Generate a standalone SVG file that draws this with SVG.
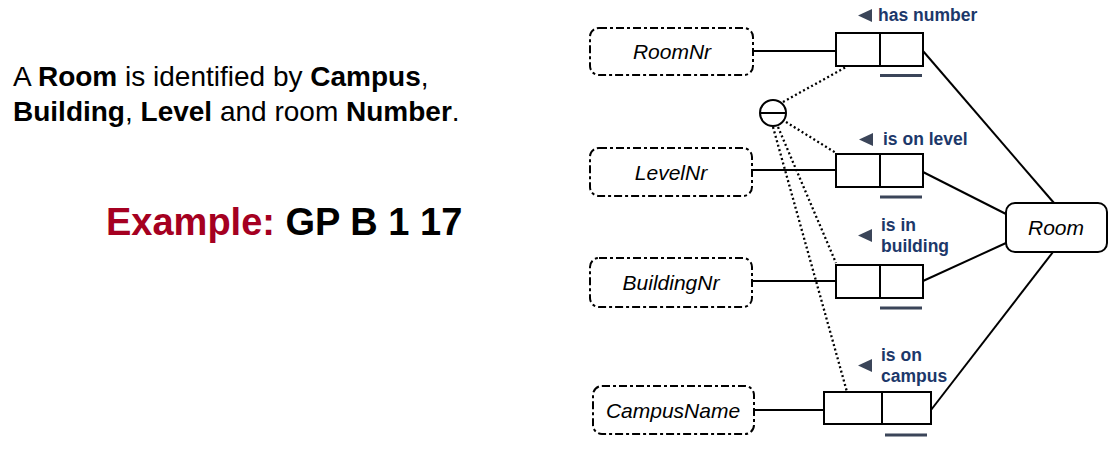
<svg xmlns="http://www.w3.org/2000/svg" width="1111" height="455" viewBox="0 0 1111 455">
<style>
  .ent { fill: #fff; stroke: #000; stroke-width: 2; stroke-dasharray: 8 3 3 3; }
  .obj { fill: #fff; stroke: #000; stroke-width: 2; }
  .role { fill: #fff; stroke: #000; stroke-width: 2; }
  .uc { stroke: #3b4559; stroke-width: 3; }
  .ln { stroke: #000; stroke-width: 2; fill: none; }
  .dot { stroke: #000; stroke-width: 2.3; fill: none; stroke-dasharray: 2 2.6; }
  .etxt { font-family: "Liberation Sans", Arial, sans-serif; font-style: italic; font-size: 21px; fill: #000; text-anchor: middle; }
  .lbl { font-family: "Liberation Sans", Arial, sans-serif; font-weight: bold; font-size: 17.5px; fill: #1c386a; }
  .tri { fill: #3b4559; }
  .body { font-family: "Liberation Sans", Arial, sans-serif; font-size: 28px; fill: #000; }
  .b { font-weight: bold; }
</style>

<g id="description">
  <text class="body" x="13" y="86">A <tspan class="b">Room</tspan> is identified by <tspan class="b">Campus</tspan>,</text>
  <text class="body" x="13" y="121"><tspan class="b">Building</tspan>, <tspan class="b">Level</tspan> and room <tspan class="b">Number</tspan>.</text>
  <text x="106" y="235" font-family="Liberation Sans, Arial, sans-serif" font-size="38" font-weight="bold"><tspan fill="#a50021">Example:</tspan> <tspan fill="#000">GP B 1 17</tspan></text>
</g>

<g id="connectors">
  <line class="ln" x1="753" y1="51" x2="836" y2="51"/>
  <line class="ln" x1="752" y1="170" x2="836" y2="170"/>
  <line class="ln" x1="752" y1="281" x2="836" y2="281"/>
  <line class="ln" x1="754" y1="410" x2="824" y2="410"/>
  <line class="ln" x1="923" y1="51" x2="1054" y2="203"/>
  <line class="ln" x1="923" y1="172" x2="1006" y2="214"/>
  <line class="ln" x1="923" y1="281" x2="1006" y2="243"/>
  <line class="ln" x1="931" y1="410" x2="1053" y2="252"/>
  <line class="dot" x1="783" y1="102" x2="846" y2="67"/>
  <line class="dot" x1="786" y1="122" x2="836" y2="153"/>
  <line class="dot" x1="778" y1="127" x2="836" y2="263"/>
  <line class="dot" x1="773" y1="127" x2="847" y2="392"/>
</g>

<g id="constraint">
  <circle cx="773" cy="113" r="13" fill="#fff" stroke="#000" stroke-width="2"/>
  <line class="ln" x1="760" y1="113" x2="786" y2="113"/>
</g>

<g id="RoomNr">
  <rect class="ent" x="590" y="28" width="163" height="47" rx="9"/>
  <text class="etxt" x="672" y="59">RoomNr</text>
</g>
<g id="LevelNr">
  <rect class="ent" x="590" y="148" width="162" height="48" rx="9"/>
  <text class="etxt" x="671" y="180">LevelNr</text>
</g>
<g id="BuildingNr">
  <rect class="ent" x="590" y="258" width="162" height="49" rx="9"/>
  <text class="etxt" x="671" y="290">BuildingNr</text>
</g>
<g id="CampusName">
  <rect class="ent" x="593" y="386" width="161" height="48" rx="9"/>
  <text class="etxt" x="673" y="418">CampusName</text>
</g>

<g id="Room">
  <rect class="obj" x="1006" y="203" width="101" height="49" rx="9"/>
  <text class="etxt" x="1056" y="235">Room</text>
</g>

<g id="has-number">
  <rect class="role" x="836" y="33" width="87" height="33"/>
  <line class="ln" x1="880" y1="33" x2="880" y2="66"/>
  <line class="uc" x1="880" y1="75.5" x2="922" y2="75.5"/>
  <polygon class="tri" points="858,15.5 872,9 872,22"/>
  <text class="lbl" x="878" y="21">has number</text>
</g>

<g id="is-on-level">
  <rect class="role" x="836" y="154" width="87" height="33"/>
  <line class="ln" x1="880" y1="154" x2="880" y2="187"/>
  <line class="uc" x1="880" y1="197" x2="922" y2="197"/>
  <polygon class="tri" points="859,139.5 873,133 873,146"/>
  <text class="lbl" x="883" y="145">is on level</text>
</g>

<g id="is-in-building">
  <rect class="role" x="836" y="265" width="87" height="33"/>
  <line class="ln" x1="880" y1="265" x2="880" y2="298"/>
  <line class="uc" x1="880" y1="308" x2="922" y2="308"/>
  <polygon class="tri" points="858,235.5 872,229 872,242"/>
  <text class="lbl" x="881" y="231">is in</text>
  <text class="lbl" x="881" y="252">building</text>
</g>

<g id="is-on-campus">
  <rect class="role" x="824" y="392" width="107" height="32"/>
  <line class="ln" x1="882" y1="392" x2="882" y2="424"/>
  <line class="uc" x1="885" y1="435" x2="927" y2="435"/>
  <polygon class="tri" points="858,365.5 872,359 872,372"/>
  <text class="lbl" x="881" y="361">is on</text>
  <text class="lbl" x="881" y="382">campus</text>
</g>
</svg>
